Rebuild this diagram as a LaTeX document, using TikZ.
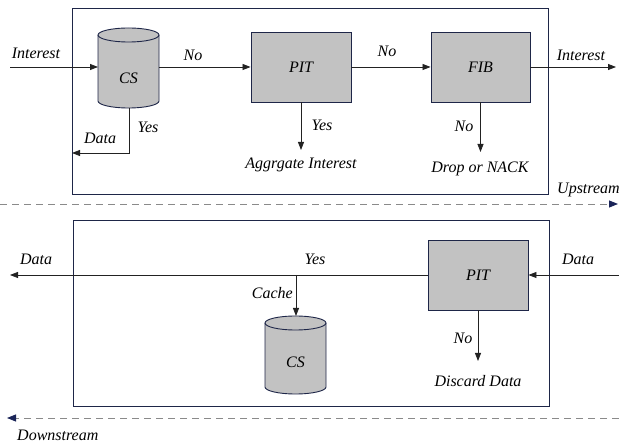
\documentclass[tikz,border=0pt]{standalone}
\usepackage{fontspec}
\setmainfont{Liberation Serif}
\usetikzlibrary{arrows.meta}
\definecolor{frame}{HTML}{1E2648}
\definecolor{boxfill}{HTML}{C2C2C2}
\definecolor{wire}{HTML}{222222}
\definecolor{flow}{HTML}{8A8A8A}
\definecolor{flowtip}{HTML}{1A2458}
\tikzset{
  lbl/.style={font=\itshape\fontsize{16}{18}\selectfont, inner sep=0pt},
  table/.style={draw=frame, fill=boxfill, line width=0.9pt, minimum width=100pt, minimum height=70pt, font=\itshape\fontsize{16}{18}\selectfont},
  router/.style={draw=frame, line width=1pt},
  wirearrow/.style={draw=wire, line width=0.8pt, -{Triangle[length=8pt,width=6pt]}},
  flowline/.style={draw=flow, line width=0.9pt, dash pattern=on 7pt off 5pt, -{Triangle[length=9pt,width=7pt,color=flowtip,fill=flowtip]}},
  cylbody/.style={draw=frame, fill=boxfill, line width=0.9pt},
}
\begin{document}
\begin{tikzpicture}[x=1pt,y=1pt]
\useasboundingbox (0,0) rectangle (619,444);

% router frames
\node[router, minimum width=476pt, minimum height=186pt, anchor=north west] (upbox) at (72,436) {};
\node[router, minimum width=476pt, minimum height=186pt, anchor=north west] (downbox) at (73,224) {};

% direction arrows
\coordinate (upA) at (0,240);
\coordinate (upB) at (618,240);
\draw[flowline] (upA) -- (upB);
\node[lbl, anchor=west] (uplbl) at (557,254) {Upstream};
\coordinate (dnA) at (619,26);
\coordinate (dnB) at (7,26);
\draw[flowline] (dnA) -- (dnB);
\node[lbl, anchor=west] (dnlbl) at (17,9) {Downstream};

% ---------- interest path ----------
% content store cylinder
\path[cylbody] (98,409) -- (98,343) arc (180:360:30.5 and 7) -- (159,409) arc (0:180:30.5 and 7) -- cycle;
\draw[draw=frame, line width=0.9pt] (98,409) arc (180:360:30.5 and 7);
\node[lbl] (cs1) at (128.5,366) {CS};
\coordinate (cs1w) at (98,377);
\coordinate (cs1e) at (159,377);
\coordinate (cs1s) at (129,336);

\node[table] (pit1) at (301,377) {PIT};
\node[table, minimum width=99pt] (fib) at (480.5,377) {FIB};

\coordinate (inA) at (10,377);
\draw[wirearrow] (inA) -- (cs1w);
\node[lbl] (l1) at (36,391) {Interest};

\draw[wirearrow] (cs1e) -- (pit1.west);
\node[lbl] (l2) at (193,389) {No};

\draw[wirearrow] (pit1.east) -- (fib.west);
\node[lbl] (l3) at (387,393) {No};

\coordinate (outI) at (616,377);
\draw[wirearrow] (fib.east) -- (outI);
\node[lbl] (l4) at (581,389) {Interest};

\coordinate (aggr) at (301,294);
\draw[wirearrow] (pit1.south) -- (aggr);
\node[lbl] (l5) at (322,319) {Yes};
\node[lbl] (l6) at (301,279) {Aggrgate Interest};

\coordinate (drop) at (480.5,292);
\draw[wirearrow] (fib.south) -- (drop);
\node[lbl] (l7) at (464,318) {No};
\node[lbl] (l8) at (480,275) {Drop or NACK};

\coordinate (csret) at (72,291);
\draw[wirearrow] (cs1s) |- (csret);
\node[lbl] (l9) at (148,317) {Yes};
\node[lbl] (l10) at (100,306) {Data};

% ---------- data path ----------
\node[table] (pit2) at (478,169) {PIT};

\coordinate (dIn) at (619,169);
\draw[wirearrow] (dIn) -- (pit2.east);
\node[lbl] (l11) at (578,185) {Data};

\coordinate (dOut) at (10,169);
\draw[wirearrow] (pit2.west) -- (dOut);
\node[lbl] (l12) at (36,185) {Data};
\node[lbl] (l13) at (315,185) {Yes};

% content store cylinder (cache)
\path[cylbody] (265,121) -- (265,57) arc (180:360:30.5 and 7) -- (326,121) arc (0:180:30.5 and 7) -- cycle;
\draw[draw=frame, line width=0.9pt] (265,121) arc (180:360:30.5 and 7);
\node[lbl] (cs2) at (295.5,82) {CS};
\coordinate (cs2n) at (296,128);
\coordinate (tap) at (296,169);
\draw[wirearrow] (tap) -- (cs2n);
\node[lbl, anchor=east] (l14) at (293,151) {Cache};

\coordinate (disc) at (478,83);
\draw[wirearrow] (pit2.south) -- (disc);
\node[lbl] (l15) at (463,106) {No};
\node[lbl] (l16) at (478,63) {Discard Data};
\end{tikzpicture}
\end{document}
